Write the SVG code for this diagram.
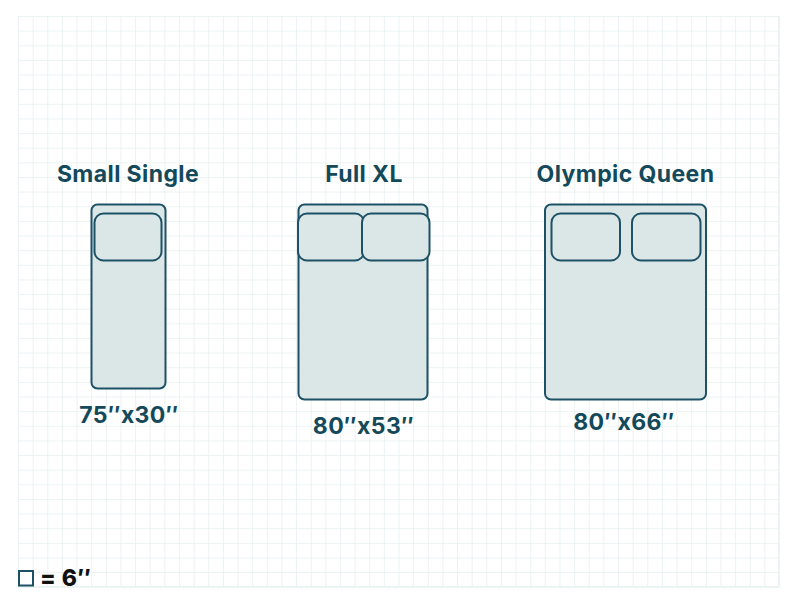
<svg xmlns="http://www.w3.org/2000/svg" width="800" height="600" viewBox="0 0 800 600">
<defs>
<pattern id="grid" x="18" y="16" width="14.635" height="14.635" patternUnits="userSpaceOnUse">
<path d="M0 0H14.635M0 0V14.635" fill="none" stroke="#e6eff0" stroke-width="1.5"/>
</pattern>
<style>
.bed{fill:#dbe6e7;stroke:#1d5266;stroke-width:2}
.pil{fill:#dbe6e7;stroke:#1d5266;stroke-width:2}
.t{font-family:Inter,"Liberation Sans",sans-serif;font-weight:700;font-size:23px;letter-spacing:0.4px;fill:#13495a;text-anchor:middle}
</style>
</defs>
<rect width="800" height="600" fill="#ffffff"/>
<g id="grid-bg">
<rect x="18" y="16" width="761" height="571" fill="url(#grid)"/>
<path d="M779 16V587M18 587H779" stroke="#e6eff0" stroke-width="1.5" fill="none"/>
</g>
<g id="small-single">
<rect class="bed" x="91.5" y="204.5" width="74" height="184" rx="6"/>
<rect class="pil" x="94.5" y="213.5" width="67" height="47" rx="9"/>
<text class="t" x="128" y="182">Small Single</text>
<text class="t" x="129" y="422.5">75″x30″</text>
</g>
<g id="full-xl">
<rect class="bed" x="298.5" y="204.5" width="129" height="195" rx="6"/>
<rect class="pil" x="298" y="213.5" width="66" height="47" rx="9"/>
<rect class="pil" x="362" y="213.5" width="67.5" height="47" rx="9"/>
<text class="t" x="364" y="182">Full XL</text>
<text class="t" x="363.5" y="434">80″x53″</text>
</g>
<g id="olympic-queen">
<rect class="bed" x="545" y="204.5" width="161" height="195" rx="6"/>
<rect class="pil" x="551.5" y="213.5" width="68.5" height="47" rx="9"/>
<rect class="pil" x="632" y="213.5" width="68.5" height="47" rx="9"/>
<text class="t" x="625.5" y="182">Olympic Queen</text>
<text class="t" x="624" y="430">80″x66″</text>
</g>
<g id="legend">
<rect x="19" y="571" width="14" height="14.5" fill="#ffffff" stroke="#1d5266" stroke-width="2"/>
<text x="40" y="586" style="font-family:Inter,'Liberation Sans',sans-serif;font-weight:800;font-size:23px;letter-spacing:0.5px;fill:#111111">= 6″</text>
</g>
<g id="connectors"/>
</svg>
